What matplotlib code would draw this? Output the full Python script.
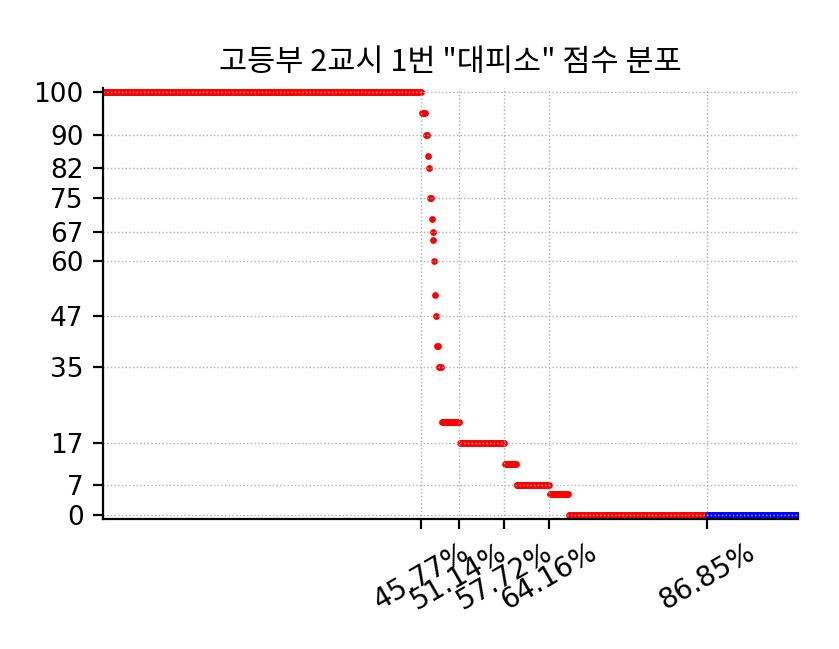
import numpy as np
import matplotlib
matplotlib.use("Agg")
import matplotlib.pyplot as plt

# scores in rank order and how many students got each one
scores = [100, 95, 90, 85, 82, 75, 70, 67, 65, 60, 52, 47, 40, 35, 22, 17, 12, 7, 5, 0]
counts = [341, 4, 2, 1, 1, 2, 1, 1, 1, 1, 1, 1, 2, 3, 19, 49, 12, 36, 20, 149]
absent = 98  # drawn in blue at 0

yticks = [0, 7, 17, 35, 47, 60, 67, 75, 82, 90, 100]
xticks = [45.77, 51.14, 57.72, 64.16, 86.85]
title = '고등부 2교시 1번 "대피소" 점수 분포'

y_red = np.repeat(scores, counts)
y_blue = np.zeros(absent)
n = len(y_red) + len(y_blue)
x_all = (np.arange(n) + 1) / n * 100
x_red = x_all[:len(y_red)]
x_blue = x_all[len(y_red):]

fig = plt.figure(figsize=(4.195, 3.245), dpi=200)
ax = fig.add_axes([0.1227, 0.2003, 0.829, 0.664])

ax.scatter(x_red, y_red, s=6, c='red', linewidths=0)
ax.scatter(x_blue, y_blue, s=6, c='blue', linewidths=0)

ax.set_xlim(0, 100)
ax.set_ylim(-1, 101)
ax.set_yticks(yticks)
ax.set_xticks(xticks)
ax.set_xticklabels(['%.2f%%' % v for v in xticks], rotation=30)
ax.tick_params(labelsize=9.5)
ax.tick_params(axis='x', labelsize=10)
ax.grid(True, linestyle=':', linewidth=0.5, color='#b0b0b0')
ax.spines['top'].set_visible(False)
ax.spines['right'].set_visible(False)
ax.set_title(title, fontsize=11, family=['Noto Sans CJK KR', 'DejaVu Sans'])

fig.savefig('out.png', dpi=200)
